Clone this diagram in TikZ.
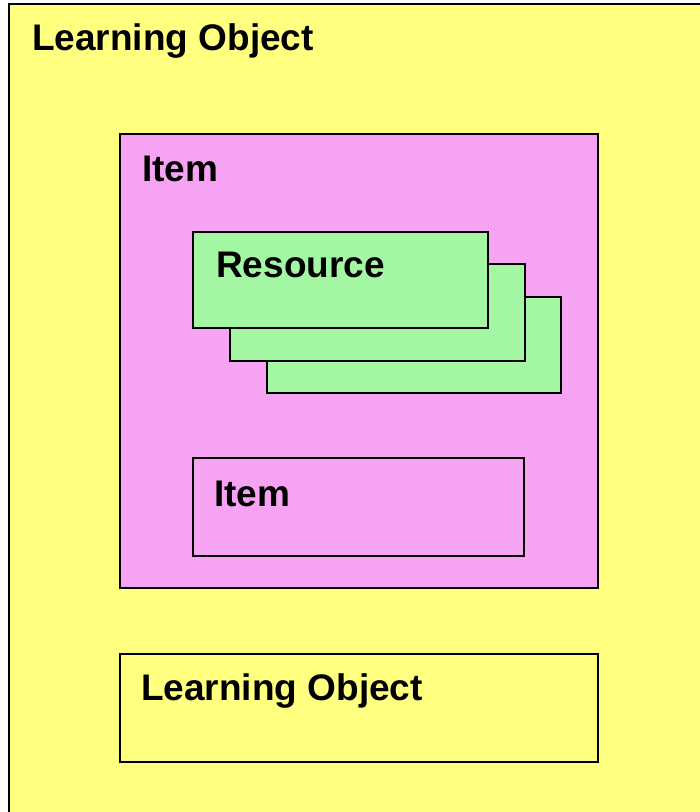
\documentclass[tikz,border=0pt]{standalone}
\usepackage{fontspec}
\setmainfont{Liberation Sans}
\definecolor{loyellow}{HTML}{FFFF80}
\definecolor{itempink}{HTML}{F7A3F3}
\definecolor{resgreen}{HTML}{A3F7A3}
\begin{document}
\begin{tikzpicture}[x=1pt,y=-1pt,
  box/.style={draw=black,line width=2pt},
  lbl/.style={anchor=base west,inner sep=0pt,font=\fontsize{37}{40}\selectfont\bfseries}]
\useasboundingbox (0,0) rectangle (700,812);
% outer learning object
\fill[loyellow] (9,4) rectangle (700,812);
\draw[line width=2pt] (9,812) -- (9,4) -- (700,4);
\node[lbl] (lo) at (32,50) {Learning Object};
% item
\draw[box,fill=itempink] (120,134) rectangle (598,588);
\node[lbl] (item) at (142,181) {Item};
% resources
\draw[box,fill=resgreen] (267,297) rectangle (561,393);
\draw[box,fill=resgreen] (230,264) rectangle (525,361);
\draw[box,fill=resgreen] (193,232) rectangle (488,328);
\node[lbl] (res) at (216,277) {Resource};
% inner item
\draw[box,line width=1.5pt] (193,458) rectangle (524,556);
\node[lbl] (item2) at (214,506) {Item};
% inner learning object
\draw[box] (120,654) rectangle (598,762);
\node[lbl] (lo2) at (141,700) {Learning Object};
\end{tikzpicture}
\end{document}
